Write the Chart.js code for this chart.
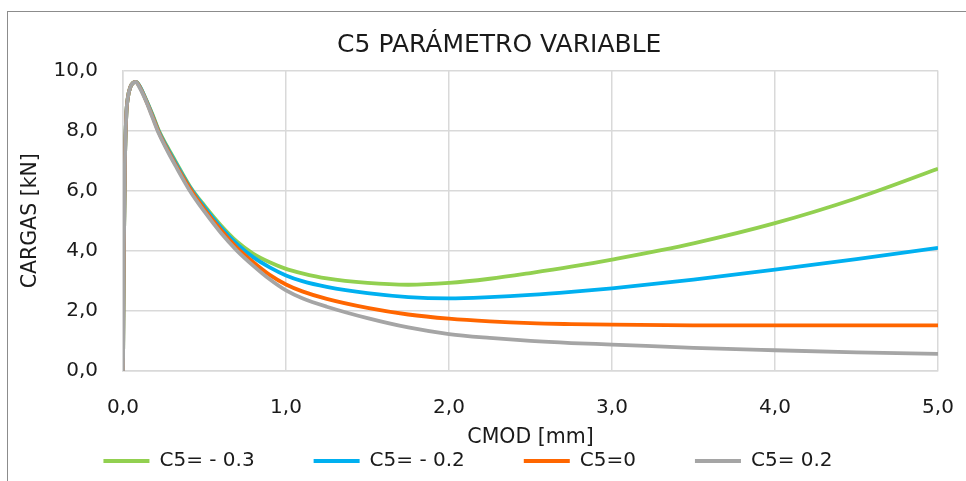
<!DOCTYPE html>
<html lang="es">
<head>
    <meta charset="UTF-8">
    <title>C5 PARÁMETRO VARIABLE</title>
    <script src="https://cdn.jsdelivr.net/npm/chart.js"></script>
    <style>
        body { margin: 0; background: #fff; }
        .marco { position: absolute; left: 7px; top: 11px; width: 980px; height: 490px; border-left: 1px solid #8c8c8c; border-top: 1px solid #8c8c8c; }
        #grafico { position: absolute; left: 0; top: 0; }
    </style>
</head>
<body>
    <div class="marco"></div>
    <canvas id="grafico" width="966" height="481"></canvas>

    <script>
        // CMOD [mm] comun a las cuatro curvas
        var cmod = [0, 0.005, 0.012, 0.02, 0.03, 0.045, 0.06, 0.078, 0.1, 0.14, 0.18, 0.22, 0.27, 0.32, 0.41, 0.5, 0.6, 0.7, 0.8, 0.9, 1.0, 1.1, 1.25, 1.5, 1.75, 2.0, 2.25, 2.5, 2.75, 3.0, 3.5, 4.0, 4.5, 5.0];

        // Cargas [kN]
        var cargaMenos03 = [0, 4, 7, 8.5, 9.1, 9.45, 9.58, 9.62, 9.5, 9.05, 8.55, 8.0, 7.48, 7.0, 6.15, 5.5, 4.85, 4.3, 3.9, 3.62, 3.4, 3.25, 3.08, 2.93, 2.87, 2.93, 3.07, 3.26, 3.47, 3.71, 4.25, 4.92, 5.75, 6.73];
        var cargaMenos02 = [0, 4, 7, 8.5, 9.1, 9.45, 9.58, 9.62, 9.5, 9.04, 8.52, 7.97, 7.44, 6.96, 6.12, 5.45, 4.78, 4.22, 3.78, 3.45, 3.18, 2.99, 2.8, 2.59, 2.46, 2.42, 2.46, 2.53, 2.63, 2.75, 3.04, 3.37, 3.72, 4.1];
        var carga0 = [0, 4, 7, 8.5, 9.1, 9.45, 9.58, 9.62, 9.48, 9.02, 8.49, 7.94, 7.4, 6.9, 6.08, 5.38, 4.7, 4.1, 3.62, 3.2, 2.88, 2.65, 2.4, 2.1, 1.88, 1.74, 1.65, 1.59, 1.56, 1.54, 1.52, 1.52, 1.52, 1.52];
        var carga02 = [0, 4, 7, 8.5, 9.1, 9.45, 9.58, 9.62, 9.45, 9.0, 8.45, 7.9, 7.35, 6.85, 6.0, 5.3, 4.6, 4.0, 3.5, 3.05, 2.68, 2.42, 2.14, 1.76, 1.45, 1.23, 1.1, 1.0, 0.93, 0.88, 0.77, 0.69, 0.62, 0.57];

        var etiquetas = ['C5= - 0.3', 'C5= - 0.2', 'C5=0', 'C5= 0.2'];
        var colores = ['#92D050', '#00B0F0', '#FF6600', '#A5A5A5'];

        function puntos(ys) {
            return cmod.map(function (x, i) { return { x: x, y: ys[i] }; });
        }

        function serie(i, ys) {
            return {
                label: etiquetas[i],
                data: puntos(ys),
                borderColor: colores[i],
                backgroundColor: colores[i],
                borderWidth: 3.8,
                pointRadius: 0,
                cubicInterpolationMode: 'monotone'
            };
        }

        function coma(v) {
            return Number(v).toFixed(1).replace('.', ',');
        }

        var texto = '#1a1a1a';
        var rejilla = '#d9d9d9';
        var fuente = 'DejaVu Sans';

        var ctx = document.getElementById('grafico').getContext('2d');
        // la ultima serie de Excel queda encima: la ponemos primera
        new Chart(ctx, {
            type: 'line',
            data: {
                datasets: [
                    serie(3, carga02),
                    serie(2, carga0),
                    serie(1, cargaMenos02),
                    serie(0, cargaMenos03)
                ]
            },
            options: {
                responsive: false,
                animation: false,
                layout: { padding: { left: 18, right: 28, top: 0, bottom: 0 } },
                plugins: {
                    title: {
                        display: true,
                        // espacios delante para correr el titulo a la derecha
                        text: '\u2003\u2002\u2009C5 PARÁMETRO VARIABLE',
                        color: texto,
                        font: { family: fuente, size: 25, weight: 'normal' },
                        padding: { top: 30, bottom: 10.5 }
                    },
                    legend: {
                        position: 'bottom',
                        labels: {
                            color: texto,
                            font: { family: fuente, size: 20 },
                            usePointStyle: true,
                            pointStyle: 'line',
                            pointStyleWidth: 46,
                            padding: 1,
                            generateLabels: function (chart) {
                                var items = Chart.defaults.plugins.legend.labels.generateLabels(chart);
                                items.sort(function (a, b) { return b.datasetIndex - a.datasetIndex; });
                                items.forEach(function (it, k) {
                                    it.text = it.text + (k < items.length - 1 ? '\u2003\u2003\u2002\u2009\u2009' : '\u2003');
                                });
                                return items;
                            }
                        }
                    },
                    tooltip: { enabled: false }
                },
                scales: {
                    x: {
                        type: 'linear',
                        min: 0,
                        max: 5,
                        afterFit: function (s) { s.height = 79; s.paddingRight = 0; },
                        ticks: { stepSize: 1, padding: 25, color: texto, font: { family: fuente, size: 20 }, callback: coma },
                        grid: { color: rejilla, lineWidth: 1.5, drawTicks: false },
                        border: { color: rejilla, width: 1.5 },
                        title: { display: true, text: 'CMOD [mm]', color: texto, font: { family: fuente, size: 20.5 }, padding: { top: 0, bottom: 0 } }
                    },
                    y: {
                        min: 0,
                        max: 10,
                        afterFit: function (s) { s.width = 105; },
                        ticks: { stepSize: 2, padding: 25, color: texto, font: { family: fuente, size: 20 }, callback: coma },
                        grid: { color: rejilla, lineWidth: 1.5, drawTicks: false },
                        border: { color: rejilla, width: 1.5 },
                        title: { display: true, text: 'CARGAS [kN]', color: texto, font: { family: fuente, size: 20.5 }, padding: { top: 0, bottom: 0 } }
                    }
                }
            }
        });
    </script>
</body>
</html>
